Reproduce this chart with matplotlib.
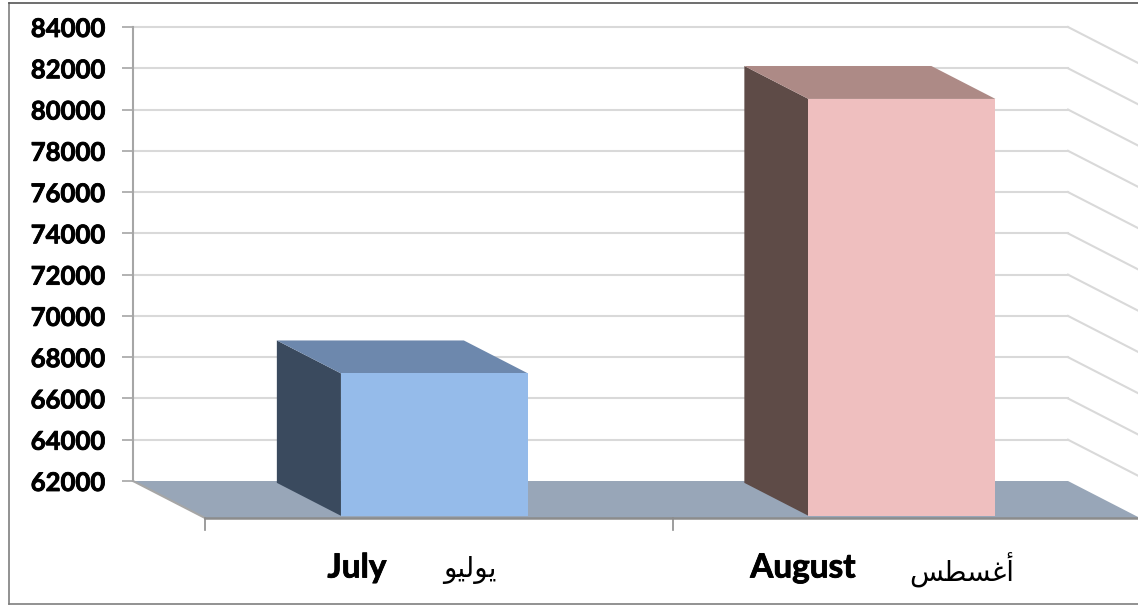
import matplotlib
matplotlib.use("Agg")
import matplotlib.pyplot as plt
from matplotlib.patches import Polygon
import matplotlib.patheffects as pe

# dane
months = ["July", "August"]
# Arabic in shaped presentation forms, visual order (matplotlib does no shaping)
months_ar = ["\ufeee\ufef4\ufedf\ufeee\ufef3", "\ufeb2\ufec4\ufeb4\ufecf\ufe83"]
values = [68900, 82200]
y_ticks = [62000, 64000, 66000, 68000, 70000, 72000, 74000, 76000, 78000, 80000, 82000, 84000]

front_colors = ["#95BBEA", "#EFBFBF"]
side_colors = ["#3A4A5E", "#5E4B47"]
top_colors = ["#6D88AD", "#AD8A86"]

W, H = 1138, 605
fig = plt.figure(figsize=(W / 100, H / 100), dpi=100)
ax = fig.add_axes([133 / W, (H - 481) / H, 935 / W, 454 / H])
ax.set_xlim(-0.5, 1.5)
ax.set_ylim(62000, 84000)

# fake 3d depth, one unit of depth = 72 px right and 37 px down
DX = 72 / 467.5
DY = 37 / 41.27 * 2000

# slightly thicker strokes, Lato bold is lighter than the original font
heavy = [pe.withStroke(linewidth=0.6, foreground="black")]


def proj(x, y, d):
    return (x + d * DX, y - d * DY)


def poly(points, color, z, edge="none"):
    ax.add_patch(Polygon(points, closed=True, facecolor=color, edgecolor=edge,
                         linewidth=0, zorder=z, clip_on=False))


# sciany: siatka
for t in y_ticks[1:]:
    ax.plot([-0.5, 1.5], [t, t], color="#D9D9D9", lw=1.5, zorder=1, clip_on=False)
    ax.plot([1.5, proj(1.5, t, 1)[0]], [t, proj(1.5, t, 1)[1]], color="#D9D9D9", lw=1.5,
            zorder=1, clip_on=False)

# podloga
floor_y = y_ticks[0]
poly([(-0.5, floor_y), (1.5, floor_y), proj(1.5, floor_y, 1), proj(-0.5, floor_y, 1)], "#98A6B8", 2)

# slupki
bar_w = 0.4
d_back, d_front = 0.05, 0.94
for i, v in enumerate(values):
    l, r = i - bar_w / 2, i + bar_w / 2
    poly([proj(l, floor_y, d_back), proj(l, v, d_back), proj(l, v, d_front), proj(l, floor_y, d_front)],
         side_colors[i], 3)
    poly([proj(l, v, d_back), proj(r, v, d_back), proj(r, v, d_front), proj(l, v, d_front)],
         top_colors[i], 3)
    poly([proj(l, floor_y, d_front), proj(l, v, d_front), proj(r, v, d_front), proj(r, floor_y, d_front)],
         front_colors[i], 4)

# osie
axis_color = "#8C8C8C"
fx = [-0.5, 1.5]
ax.plot([fx[0], proj(fx[0], floor_y, 1)[0]], [floor_y, proj(fx[0], floor_y, 1)[1]],
        color="#A6A6A6", lw=1.5, zorder=5, clip_on=False)
ax.plot([proj(fx[0], floor_y, 1)[0], proj(fx[1], floor_y, 1)[0]],
        [proj(fx[0], floor_y, 1)[1]] * 2, color=axis_color, lw=1.8, zorder=5, clip_on=False)
tick_len = 12 / 41.27 * 2000
for c in [-0.5, 0.5]:
    x0, y0 = proj(c, floor_y, 1)
    ax.plot([x0, x0], [y0, y0 - tick_len], color=axis_color, lw=1.2, zorder=5, clip_on=False)

for s in ["top", "right", "bottom"]:
    ax.spines[s].set_visible(False)
ax.spines["left"].set_color("#A6A6A6")
ax.spines["left"].set_linewidth(1.5)
ax.patch.set_visible(False)
ax.set_xticks([])
ax.set_yticks(y_ticks)
ax.tick_params(axis="y", length=8, width=1.2, color="#A6A6A6", pad=12)
for lab in ax.get_yticklabels():
    lab.set_fontfamily("Lato")
    lab.set_fontweight("bold")
    lab.set_fontsize(18.5)
    lab.set_color("black")
    lab.set_path_effects(heavy)

# etykiety miesiecy
en_x = [357, 803]
ar_x = [470, 962]
for i in range(len(months)):
    fig.text(en_x[i] / W, 1 - 568 / H, months[i], family="Lato", weight="bold", fontsize=24,
             ha="center", va="center", color="black", path_effects=heavy)
    fig.text(ar_x[i] / W, 1 - 570 / H, months_ar[i], family="DejaVu Sans", fontsize=20,
             ha="center", va="center", color="black")

# ramka
frame = "#7F7F7F"
fig.add_artist(plt.Line2D([9 / W, 9 / W], [1 - 3 / H, 1 - 604 / H], color=frame, lw=1.2))
fig.add_artist(plt.Line2D([9 / W, 1], [1 - 3 / H, 1 - 3 / H], color="#555555", lw=1.2))
fig.add_artist(plt.Line2D([9 / W, 1], [1 - 604 / H, 1 - 604 / H], color=frame, lw=1.2))

plt.savefig("out.png", dpi=100)
